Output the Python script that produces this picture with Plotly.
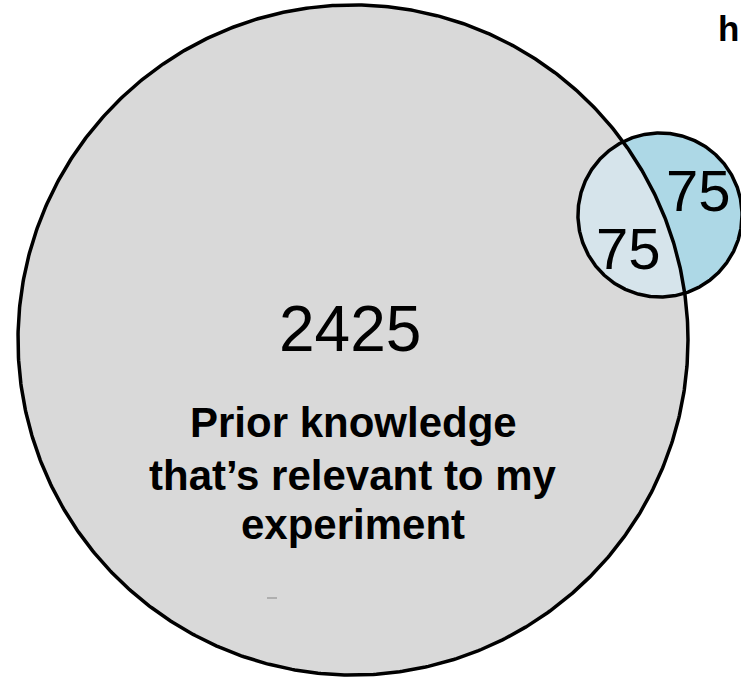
import numpy as np
import plotly.graph_objects as go

# ---- data ----
set_names = ["Prior knowledge that’s relevant to my experiment", "h"]
region_labels = ["2425", "75", "75"]          # A only, A∩B, B only
region_sizes = [2425, 75, 75]
label_lines = ["Prior knowledge", "that’s relevant to my", "experiment"]

# ---- geometry (pixel-like coordinate system) ----
W, H = 741, 678
size_A = region_sizes[0] + region_sizes[1]
size_B = region_sizes[1] + region_sizes[2]
k = 6.7
rA = k * np.sqrt(size_A)
rB = k * np.sqrt(size_B)
cA = np.array([353.0, 340.0])
cB = np.array([660.0, 215.0])

gray = "#d9d9d9"
blue = "#add8e6"
lens_col = "#d6e4eb"

t = np.linspace(0, 2 * np.pi, 721)
circA = np.c_[cA[0] + rA * np.cos(t), cA[1] + rA * np.sin(t)]
circB = np.c_[cB[0] + rB * np.cos(t), cB[1] + rB * np.sin(t)]

inA = np.hypot(circB[:, 0] - cA[0], circB[:, 1] - cA[1]) <= rA
inB = np.hypot(circA[:, 0] - cB[0], circA[:, 1] - cB[1]) <= rB
lens = np.vstack([circB[inA], circA[inB]])
cen = lens.mean(axis=0)
order = np.argsort(np.arctan2(lens[:, 1] - cen[1], lens[:, 0] - cen[0]))
lens = lens[order]
lens = np.vstack([lens, lens[:1]])

fig = go.Figure()
fig.add_trace(go.Scatter(x=circA[:, 0], y=circA[:, 1], mode="lines", fill="toself",
                         fillcolor=gray, line=dict(color="rgba(0,0,0,0)", width=0),
                         hoverinfo="skip", showlegend=False))
fig.add_trace(go.Scatter(x=circB[:, 0], y=circB[:, 1], mode="lines", fill="toself",
                         fillcolor=blue, line=dict(color="rgba(0,0,0,0)", width=0),
                         hoverinfo="skip", showlegend=False))
fig.add_trace(go.Scatter(x=lens[:, 0], y=lens[:, 1], mode="lines", fill="toself",
                         fillcolor=lens_col, line=dict(color="rgba(0,0,0,0)", width=0),
                         hoverinfo="skip", showlegend=False))
for c in (circA, circB):
    fig.add_trace(go.Scatter(x=c[:, 0], y=c[:, 1], mode="lines",
                             line=dict(color="black", width=3.5),
                             hoverinfo="skip", showlegend=False))

font = "Liberation Sans, Arial, Helvetica, sans-serif"
ann = []
ann.append(dict(x=350, y=329, text=region_labels[0], showarrow=False,
                font=dict(family=font, size=64, color="black"),
                xanchor="center", yanchor="middle"))
ann.append(dict(x=628, y=248, text=region_labels[1], showarrow=False,
                font=dict(family=font, size=58, color="black"),
                xanchor="center", yanchor="middle"))
ann.append(dict(x=698, y=190, text=region_labels[2], showarrow=False,
                font=dict(family=font, size=58, color="black"),
                xanchor="center", yanchor="middle"))
for yy, line in zip([422, 475, 524], label_lines):
    ann.append(dict(x=353, y=yy, text="<b>" + line + "</b>", showarrow=False,
                    font=dict(family=font, size=42, color="black"),
                    xanchor="center", yanchor="middle"))
ann.append(dict(x=741, y=28, text="<b>" + set_names[1] + "</b>", showarrow=False,
                font=dict(family=font, size=35, color="black"),
                xanchor="right", yanchor="middle"))

fig.update_layout(
    width=W, height=H,
    margin=dict(l=0, r=0, t=0, b=0),
    paper_bgcolor="white", plot_bgcolor="white",
    xaxis=dict(range=[0, W], visible=False, fixedrange=True),
    yaxis=dict(range=[H, 0], visible=False, fixedrange=True),
    annotations=ann,
    shapes=[dict(type="line", x0=267, x1=277, y0=598, y1=598,
                 line=dict(color="#a0a0a0", width=1.5))],
)

fig.write_html("out.html", config={"displayModeBar": False},
               post_script="document.body.style.margin='0';document.body.style.overflow='hidden';")
